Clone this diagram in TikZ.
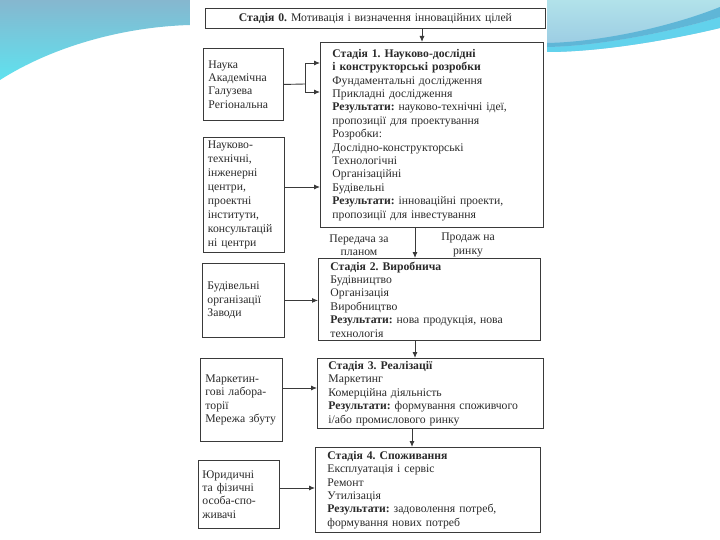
\documentclass[tikz,border=0pt]{standalone}
\usepackage{fontspec}
\setmainfont{Liberation Serif}
\usetikzlibrary{arrows.meta}
\definecolor{linec}{HTML}{3A3A3A}
\definecolor{txtc}{HTML}{2A2A2A}
\definecolor{wavetop}{HTML}{86B7CF}
\definecolor{wavebot}{HTML}{5EE2EF}
\definecolor{rtop}{HTML}{B2E2EA}
\definecolor{rbot}{HTML}{98C9E2}
\definecolor{band}{HTML}{5FB6D7}
\definecolor{bandc}{HTML}{62D2EC}
\newcommand{\fsz}{\frenchspacing\fontsize{11.7}{13.4}\selectfont}
\tikzset{
  bx/.style={draw=linec, line width=0.9pt, anchor=north west, inner ysep=0pt, align=left, text=txtc, font=\fsz},
  lbl/.style={align=center, text=txtc, font=\fsz, inner sep=0pt},
  arr/.style={draw=linec, line width=0.9pt, -{Latex[length=6pt,width=5pt]}},
  ln/.style={draw=linec, line width=0.9pt}
}
\begin{document}
\begin{tikzpicture}[x=1pt,y=-1pt]
\useasboundingbox (0,0) rectangle (720,540);
\fill[white] (0,0) rectangle (720,540);
% slide decoration
\shade[top color=wavetop, bottom color=wavebot] (0,0) -- (190,0) -- (190,25) .. controls (120,27) and (50,48) .. (0,80) -- cycle;
\shade[top color=rtop, bottom color=rbot] (547,0) -- (720,0) -- (720,28) .. controls (670,40) and (600,52) .. (547,52) -- cycle;
\fill[bandc] (547,47) .. controls (600,46) and (670,32) .. (720,17) -- (720,28) .. controls (670,40) and (600,52) .. (547,52) -- cycle;
\fill[band] (547,43) .. controls (600,42) and (670,27) .. (720,7) -- (720,17) .. controls (670,32) and (600,46) .. (547,47) -- cycle;

% stage 0
\node[bx, minimum width=340pt, minimum height=20pt, text width=330pt, inner xsep=5pt, align=center] (s0) at (205,8) {\textbf{Стадія 0.} Мотивація і визначення інноваційних цілей};

% stage 1
\node[bx, minimum width=223pt, minimum height=185pt, text width=199pt, inner xsep=12pt] (s1) at (320,42) {\textbf{Стадія 1. Науково-дослідні}\\\textbf{і конструкторські розробки}\\Фундаментальні дослідження\\Прикладні дослідження\\\textbf{Результати:} науково-технічні ідеї,\\пропозиції для проектування\\Розробки:\\Дослідно-конструкторські\\Технологічні\\Організаційні\\Будівельні\\\textbf{Результати:} інноваційні проекти,\\пропозиції для інвестування};

% stage 2
\node[bx, minimum width=222pt, minimum height=82pt, text width=198pt, inner xsep=12pt] (s2) at (318,258) {\textbf{Стадія 2. Виробнича}\\Будівництво\\Організація\\Виробництво\\\textbf{Результати:} нова продукція, нова\\технологія};

% stage 3
\node[bx, minimum width=226pt, minimum height=70pt, text width=204pt, inner xsep=11pt] (s3) at (317,358) {\textbf{Стадія 3. Реалізації}\\Маркетинг\\Комерційна діяльність\\\textbf{Результати:} формування споживчого\\і/або промислового ринку};

% stage 4
\node[bx, minimum width=225pt, minimum height=85pt, text width=201pt, inner xsep=12pt] (s4) at (315,447) {\textbf{Стадія 4. Споживання}\\Експлуатація і сервіс\\Ремонт\\Утилізація\\\textbf{Результати:} задоволення потреб,\\формування нових потреб};

% left boxes
\node[bx, minimum width=80pt, minimum height=72pt, text width=70pt, inner xsep=5pt] (l1) at (203,48) {Наука\\Академічна\\Галузева\\Регіональна};
\node[bx, minimum width=80pt, minimum height=115pt, text width=72pt, inner xsep=4.5pt, font=\frenchspacing\fontsize{11.7}{13.9}\selectfont] (l2) at (203,137) {Науково-\\технічні,\\інженерні\\центри,\\проектні\\інститути,\\консультацій\\ні центри};
\node[bx, minimum width=81pt, minimum height=74pt, text width=72pt, inner xsep=5pt] (l3) at (202,263) {Будівельні\\організації\\Заводи};
\node[bx, minimum width=80pt, minimum height=83pt, text width=72pt, inner xsep=5pt] (l4) at (200,358) {Маркетин-\\гові лабора-\\торії\\Мережа збуту};
\node[bx, minimum width=79pt, minimum height=68pt, text width=73pt, inner xsep=4pt] (l5) at (198,460) {Юридичні\\та фізичні\\особа-спо-\\живачі};

% labels
\node[lbl] (pl) at (359,245) {Передача за\\планом};
\node[lbl] (pr) at (468,245) {Продаж на\\ринку};

% helper coordinates
\coordinate (x0) at (422,0);
\coordinate (x1) at (415,0);
\coordinate (x3) at (412,0);
\coordinate (j1) at (305,84);
\coordinate (ya) at (0,63);
\coordinate (yb) at (0,92);
\coordinate (y2) at (0,187);
\coordinate (y4) at (0,388);
\coordinate (y5) at (0,488);

% connectors
\draw[arr] (s0.south -| x0) -- (s1.north -| x0);
\draw[arr] (s1.south -| x1) -- (s2.north -| x1);
\draw[arr] (s2.south -| x1) -- (s3.north -| x1);
\draw[arr] (s3.south -| x3) -- (s4.north -| x3);
\draw[ln] (l1.east) -- (j1);
\draw[arr] (j1) |- (s1.west |- ya);
\draw[arr] (j1) |- (s1.west |- yb);
\draw[arr] (l2.east |- y2) -- (s1.west |- y2);
\draw[arr] (l3.east) -- (s2.west |- l3.east);
\draw[arr] (l4.east |- y4) -- (s3.west |- y4);
\draw[arr] (l5.east |- y5) -- (s4.west |- y5);
\end{tikzpicture}
\end{document}
